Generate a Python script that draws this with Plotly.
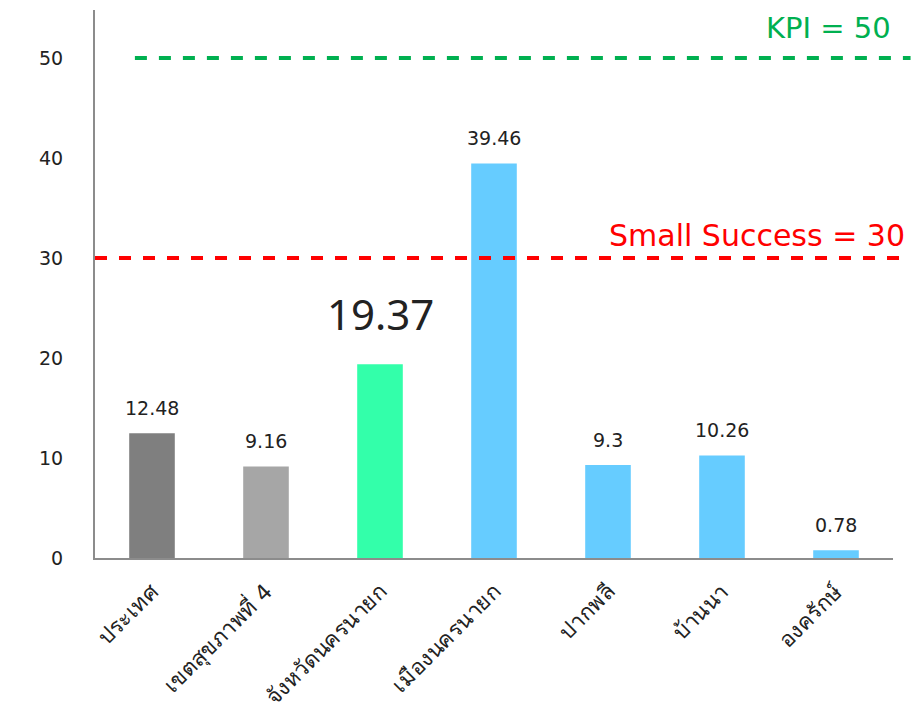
import plotly.graph_objects as go

categories = ["ประเทศ", "เขตสุขภาพที่ 4", "จังหวัดนครนายก", "เมืองนครนายก", "ปากพลี", "บ้านนา", "องครักษ์"]
values = [12.48, 9.16, 19.37, 39.46, 9.3, 10.26, 0.78]
bar_colors = ["#7f7f7f", "#a6a6a6", "#33ffaa", "#66ccff", "#66ccff", "#66ccff", "#66ccff"]
label_sizes = [19, 19, 42, 19, 19, 19, 19]
label_fonts = ["DejaVu Sans", "DejaVu Sans", "Noto Sans", "DejaVu Sans", "DejaVu Sans", "DejaVu Sans", "DejaVu Sans"]
label_shift = [12, 12, 20, 12, 12, 12, 12]
kpi = 50
small_success = 30
y_ticks = [0, 10, 20, 30, 40, 50]

font_family = "DejaVu Sans, Noto Sans, sans-serif"

fig = go.Figure()
fig.add_trace(go.Bar(
    x=categories, y=values,
    marker=dict(color=bar_colors, line=dict(width=0)),
    width=0.4,
    hoverinfo="x+y",
))

for c, v, s, f, sh in zip(categories, values, label_sizes, label_fonts, label_shift):
    fig.add_annotation(x=c, y=v, text=str(v), showarrow=False,
                       yanchor="bottom", yshift=sh,
                       font=dict(size=s, color="#222222", family=f))

fig.add_shape(type="line", xref="paper", yref="y", x0=0.05, x1=1.022, y0=kpi, y1=kpi,
              line=dict(color="#00b050", width=4, dash="dash"))
fig.add_shape(type="line", xref="paper", yref="y", x0=0.0, x1=1.017, y0=small_success, y1=small_success,
              line=dict(color="#ff0000", width=4, dash="dash"))

fig.add_annotation(xref="paper", yref="y", x=1.0, y=kpi, text="KPI = " + str(kpi),
                   showarrow=False, xanchor="right", yanchor="bottom", yshift=11,
                   font=dict(size=29, color="#00b050", family=font_family))
fig.add_annotation(xref="paper", yref="y", x=1.018, y=small_success, text="Small Success = " + str(small_success),
                   showarrow=False, xanchor="right", yanchor="bottom", yshift=3,
                   font=dict(size=30, color="#ff0000", family=font_family))

fig.update_layout(
    width=915, height=717,
    margin=dict(l=87, r=30, t=2, b=167, autoexpand=False),
    plot_bgcolor="white", paper_bgcolor="white",
    showlegend=False,
    font=dict(family=font_family, size=18, color="#222222"),
    bargap=0.6,
)
fig.update_yaxes(range=[0, 54.8], tickvals=y_ticks, showgrid=False, zeroline=False,
                 showline=True, linecolor="#8c8c8c", linewidth=2, ticks="", automargin=False,
                 ticklabelstandoff=26, tickfont=dict(size=19, color="#222222"))
fig.update_xaxes(showgrid=False, showline=True, linecolor="#8c8c8c", linewidth=2,
                 tickangle=-45, ticks="", ticklabelstandoff=10, automargin=False,
                 tickfont=dict(size=22, color="#222222"))

fig.write_html("out.html")
